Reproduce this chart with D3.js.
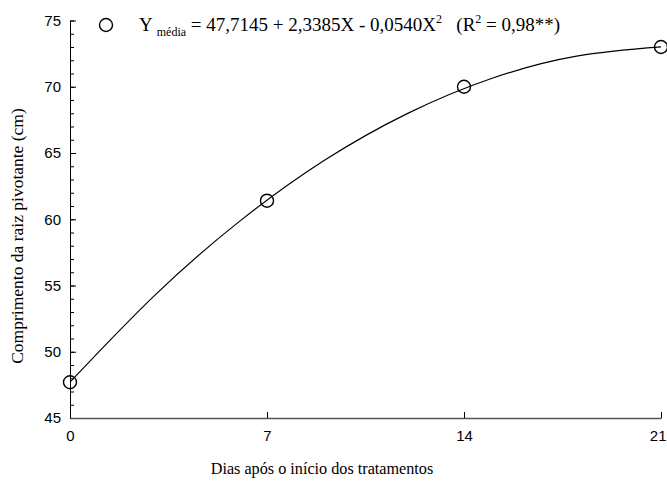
<!DOCTYPE html>
<html>
<head>
<meta charset="utf-8">
<script src="https://cdn.jsdelivr.net/npm/d3@7"></script>
<style>
  body { margin: 0; background: #fff; }
  .tick text { font-family: "Liberation Sans", Arial, sans-serif; font-size: 15px; fill: #000; }
  .serif { font-family: "Liberation Serif", "Times New Roman", serif; fill: #000; }
</style>
</head>
<body>
<svg id="chart" width="667" height="482"></svg>
<script>
// observed means
var dias = [0, 7, 14, 21];
var comprimento = [47.7, 61.4, 70.0, 73.0];

// fitted curve
var curvaX = [0, 3, 6, 9, 12, 15, 18, 21];
var curvaY = [47.71, 54.24, 59.80, 64.39, 67.99, 70.64, 72.31, 73.01];

var xTicks = [0, 7, 14, 21];
var yTicks = [45, 50, 55, 60, 65, 70, 75];
var yMinor = d3.range(45, 76, 1);

var margin = {top: 20.5, right: 6, bottom: 64, left: 70}
  , width = 667 - margin.left - margin.right
  , height = 482 - margin.top - margin.bottom;

var svg = d3.select("#chart");
var g = svg.append("g")
    .attr("transform", "translate(" + margin.left + "," + margin.top + ")");

var x = d3.scaleLinear().domain([0, 21]).range([0, width]);
var y = d3.scaleLinear().domain([45, 75]).range([height, 0]);

// minor ticks on y
g.append("g")
    .call(d3.axisLeft(y).tickValues(yMinor).tickFormat("").tickSize(-4).tickSizeOuter(0))
    .call(s => s.select(".domain").remove());

// y axis
g.append("g")
    .call(d3.axisLeft(y).tickValues(yTicks).tickSize(-6).tickSizeOuter(0).tickPadding(9));

// x axis
g.append("g")
    .attr("transform", "translate(0," + height + ")")
    .call(d3.axisBottom(x).tickValues(xTicks).tickSize(-6).tickSizeOuter(0).tickPadding(12))
    .call(s => s.select(".domain").attr("stroke", "#555").attr("stroke-width", 1.6))
    // last label sits against the right edge
    .call(s => s.selectAll(".tick text").filter(d => d == 21).attr("text-anchor", "end").attr("dx", 5));

// regression curve
var line = d3.line()
    .x((d, i) => x(curvaX[i]))
    .y(d => y(d))
    .curve(d3.curveNatural);

g.append("path")
    .datum(curvaY)
    .attr("fill", "none")
    .attr("stroke", "#000")
    .attr("stroke-width", 1.2)
    .attr("d", line);

// points
g.selectAll("circle.pt")
    .data(comprimento)
  .enter().append("circle")
    .classed("pt", true)
    .attr("cx", (d, i) => x(dias[i]))
    .attr("cy", d => y(d))
    .attr("r", 6.5)
    .attr("fill", "none")
    .attr("stroke", "#000")
    .attr("stroke-width", 1.4);

// legend
svg.append("circle")
    .attr("cx", 106)
    .attr("cy", 25)
    .attr("r", 6.5)
    .attr("fill", "none")
    .attr("stroke", "#000")
    .attr("stroke-width", 1.4);

var leg = svg.append("text")
    .classed("serif", true)
    .attr("x", 139)
    .attr("y", 31)
    .style("font-size", "19px")
    .attr("xml:space", "preserve");
leg.append("tspan").text("Y ");
leg.append("tspan").text("média").style("font-size", "12px").attr("dy", 5);
leg.append("tspan").text(" = 47,7145 + 2,3385X - 0,0540X").attr("dy", -5);
leg.append("tspan").text("2").style("font-size", "12px").attr("dy", -8);
leg.append("tspan").text("   (R").attr("dy", 8);
leg.append("tspan").text("2").style("font-size", "12px").attr("dy", -8);
leg.append("tspan").text(" = 0,98**)").attr("dy", 8);

// axis titles
svg.append("text")
    .classed("serif", true)
    .attr("x", 322)
    .attr("y", 474)
    .attr("text-anchor", "middle")
    .style("font-size", "16.2px")
    .text("Dias após o início dos tratamentos");

svg.append("text")
    .classed("serif", true)
    .attr("transform", "translate(23,236) rotate(-90)")
    .attr("text-anchor", "middle")
    .style("font-size", "17.5px")
    .text("Comprimento da raiz pivotante (cm)");
</script>
</body>
</html>
